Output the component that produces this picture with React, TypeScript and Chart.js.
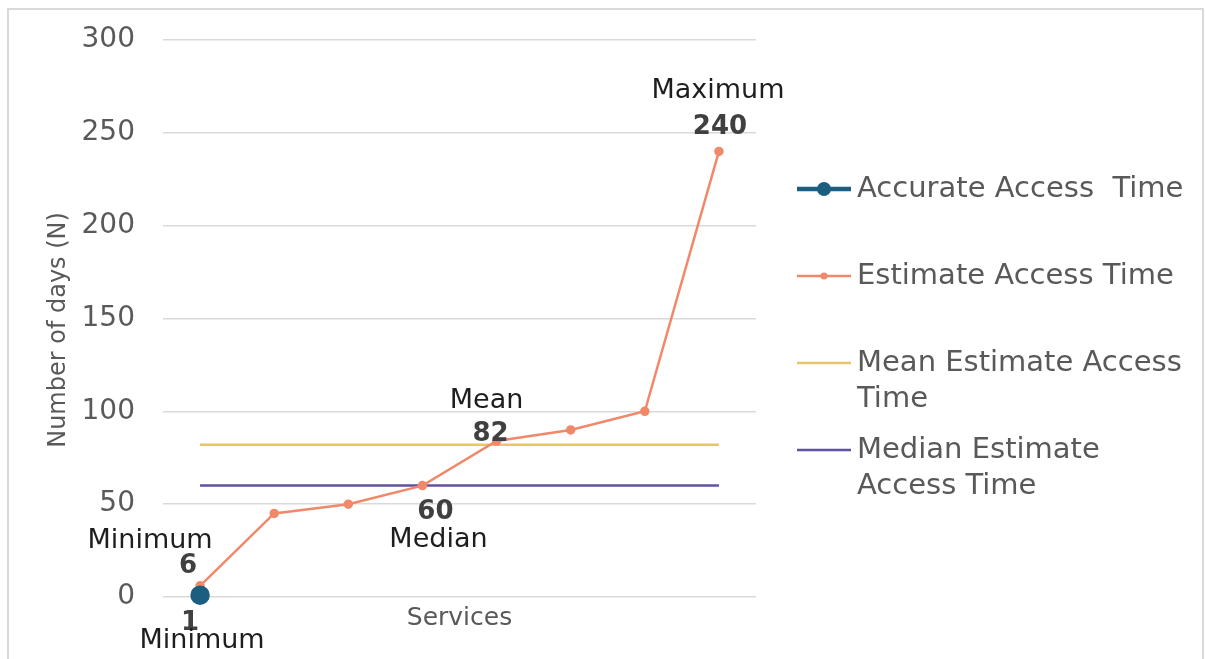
import React, { useEffect, useRef } from 'react';
import { Chart, registerables } from 'chart.js';

Chart.register(...registerables);

// ---------- data ----------
const categories = ['Service 1', 'Service 2', 'Service 3', 'Service 4', 'Service 5', 'Service 6', 'Service 7', 'Service 8'];
const accurateValues: (number | null)[] = [1, null, null, null, null, null, null, null];
const estimateValues = [6, 45, 50, 60, 84, 90, 100, 240];
const meanValues = [82, 82, 82, 82, 82, 82, 82, 82];
const medianValues = [60, 60, 60, 60, 60, 60, 60, 60];
const seriesNames = ['Accurate Access  Time', 'Estimate Access Time', 'Mean Estimate Access Time', 'Median Estimate Access Time'];
const yMin = 0;
const yMax = 300;
const yStep = 50;
const yTitle = 'Number of days (N)';
const xTitle = 'Services';

// annotation texts attached to points: [datasetIndex, pointIndex, text, bold]
const annotationTexts: [number, number, string, boolean][] = [
  [1, 0, 'Minimum', false],
  [1, 0, '6', true],
  [0, 0, '1', true],
  [0, 0, 'Minimum', false],
  [1, 3, '60', true],
  [1, 3, 'Median', false],
  [1, 4, 'Mean', false],
  [1, 4, '82', true],
  [1, 7, 'Maximum', false],
  [1, 7, '240', true],
];

// ---------- styling / layout ----------
const FONT = "'DejaVu Sans', sans-serif";
const colors = ['#1B5E80', '#F0896A', '#E9C46C', '#6152A0'];
const annotationOffsets: [number, number][] = [
  [-50, -45], [-12, -20], [-10, 28], [2, 46], [13, 27], [16, 54], [-10, -40], [-6, -7], [-1, -60], [1, -24],
];

const pointLabelPlugin = {
  id: 'pointLabels',
  afterDatasetsDraw(chart: any) {
    const ctx = chart.ctx;
    ctx.save();
    ctx.textAlign = 'center';
    ctx.textBaseline = 'middle';
    annotationTexts.forEach(([ds, idx, text, bold], i) => {
      const el = chart.getDatasetMeta(ds).data[idx];
      if (!el) return;
      const [dx, dy] = annotationOffsets[i];
      ctx.font = bold ? `bold 26px ${FONT}` : `27px ${FONT}`;
      ctx.fillStyle = bold ? '#404040' : '#1e1e1e';
      ctx.fillText(text, el.x + dx, el.y + dy);
    });
    ctx.restore();
  },
};

const legendPlugin = {
  id: 'sideLegend',
  afterDraw(chart: any) {
    const ctx = chart.ctx;
    const x0 = chart.chartArea.right + 41;
    const lineLen = 54;
    const textX = x0 + 60;
    const firstY = 189;
    const rowGap = 87;
    const lineGap = 36;
    const maxW = 340;
    ctx.save();
    chart.data.datasets.forEach((ds: any, i: number) => {
      const y = firstY + i * rowGap;
      ctx.strokeStyle = ds.borderColor;
      ctx.lineWidth = i === 0 ? 4.5 : 2.5;
      ctx.beginPath();
      ctx.moveTo(x0, y);
      ctx.lineTo(x0 + lineLen, y);
      ctx.stroke();
      if (ds.pointRadius > 0) {
        ctx.fillStyle = ds.pointBackgroundColor;
        ctx.beginPath();
        ctx.arc(x0 + lineLen / 2, y, i === 0 ? 7 : 3.5, 0, Math.PI * 2);
        ctx.fill();
      }
      ctx.font = `29px ${FONT}`;
      ctx.fillStyle = '#595959';
      ctx.textAlign = 'left';
      ctx.textBaseline = 'middle';
      const words = String(ds.label).split(' ');
      const lines: string[] = [];
      let cur = '';
      words.forEach((w) => {
        const test = cur === '' ? w : cur + ' ' + w;
        if (ctx.measureText(test.trim()).width > maxW && cur.trim() !== '') {
          lines.push(cur);
          cur = w;
        } else {
          cur = test;
        }
      });
      lines.push(cur);
      lines.forEach((ln, k) => ctx.fillText(ln, textX, y + k * lineGap));
    });
    ctx.restore();
  },
};

export default function App() {
  const canvasRef = useRef<HTMLCanvasElement | null>(null);

  useEffect(() => {
    if (!canvasRef.current) return;
    const chart = new Chart(canvasRef.current, {
      type: 'line',
      data: {
        labels: categories,
        datasets: [
          {
            label: seriesNames[0],
            data: accurateValues,
            borderColor: colors[0],
            backgroundColor: colors[0],
            pointBackgroundColor: colors[0],
            pointBorderColor: colors[0],
            pointRadius: 7.5,
            borderWidth: 4.5,
            clip: false,
          },
          {
            label: seriesNames[1],
            data: estimateValues,
            borderColor: colors[1],
            backgroundColor: colors[1],
            pointBackgroundColor: colors[1],
            pointBorderColor: colors[1],
            pointRadius: 3.5,
            borderWidth: 2.5,
            clip: false,
          },
          {
            label: seriesNames[2],
            data: meanValues,
            borderColor: colors[2],
            backgroundColor: colors[2],
            pointRadius: 0,
            borderWidth: 2.5,
            clip: false,
          },
          {
            label: seriesNames[3],
            data: medianValues,
            borderColor: colors[3],
            backgroundColor: colors[3],
            pointRadius: 0,
            borderWidth: 2.5,
            clip: false,
          },
        ],
      },
      options: {
        responsive: false,
        animation: false,
        devicePixelRatio: 1,
        layout: { padding: { left: 0, top: 40, right: 449, bottom: 0 } },
        plugins: {
          legend: { display: false },
          tooltip: { enabled: false },
        },
        scales: {
          x: {
            offset: true,
            grid: { display: false },
            border: { display: false },
            ticks: { display: false },
            title: {
              display: true,
              text: xTitle,
              color: '#595959',
              font: { family: FONT, size: 25 },
              padding: { top: 0, bottom: 26 },
            },
            afterFit: (scale: any) => {
              scale.height = 62;
              scale.paddingLeft = 0;
              scale.paddingRight = 0;
            },
          },
          y: {
            min: yMin,
            max: yMax,
            grid: { color: '#d9d9d9', lineWidth: 1.5, drawTicks: false },
            border: { display: false },
            ticks: {
              stepSize: yStep,
              padding: 28,
              color: '#595959',
              font: { family: FONT, size: 28 },
            },
            title: {
              display: true,
              text: yTitle + '   ',
              color: '#595959',
              font: { family: FONT, size: 24 },
              padding: { top: 44, bottom: 0 },
            },
            afterFit: (scale: any) => {
              scale.width = 163;
              scale.paddingTop = 0;
              scale.paddingBottom = 0;
            },
          },
        },
      },
      plugins: [pointLabelPlugin, legendPlugin],
    } as any);
    return () => chart.destroy();
  }, []);

  return (
    <div style={{ position: 'fixed', left: 0, top: 0, width: 1205, height: 659, background: '#fff', overflow: 'hidden' }}>
      <div
        style={{
          position: 'absolute',
          left: 7,
          top: 8,
          width: 1197,
          height: 700,
          border: '2px solid #d9d9d9',
          boxSizing: 'border-box',
        }}
      />
      <canvas ref={canvasRef} width={1205} height={659} style={{ position: 'absolute', left: 0, top: 0 }} />
    </div>
  );
}
